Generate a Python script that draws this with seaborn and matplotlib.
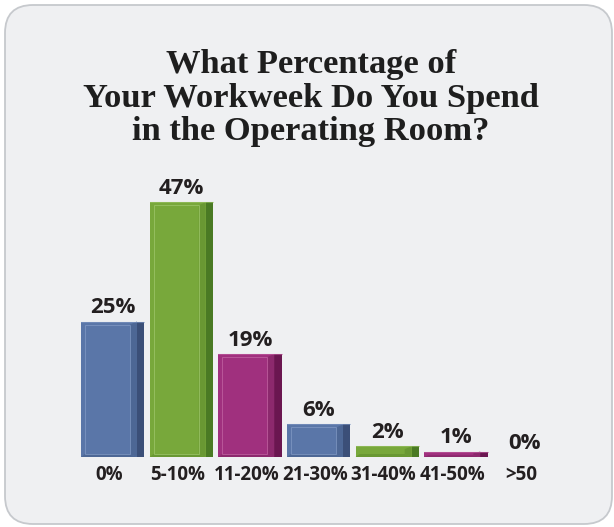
import matplotlib
matplotlib.use("Agg")
import matplotlib.pyplot as plt
from matplotlib.patches import FancyBboxPatch, Rectangle, Polygon
from matplotlib.transforms import IdentityTransform
import seaborn as sns
import pandas as pd

# Survey data
categories = ["0%", "5-10%", "11-20%", "21-30%", "31-40%", "41-50%", ">50"]
shares = [25, 47, 19, 6, 2, 1, 0]
title = "What Percentage of\nYour Workweek Do You Spend\nin the Operating Room?"

# face, shaded bevel, side, highlight
blue = ("#5a76a8", "#4d6795", "#3b4f78", "#7f97c2")
green = ("#78a83b", "#699833", "#4a7a24", "#9cc468")
purple = ("#a0307e", "#8c296d", "#6a1650", "#c060a0")
styles = [blue, green, purple, blue, green, purple, blue]

sns.set_theme(style="white")

W, H = 614, 527
fig = plt.figure(figsize=(W / 100, H / 100), dpi=100)
fig.patch.set_facecolor("white")

# rounded grey panel behind everything
panel = FancyBboxPatch((5, 3), 607, 519,
                       boxstyle="round,pad=0,rounding_size=28",
                       transform=IdentityTransform(),
                       facecolor="#eff0f2", edgecolor="#c6c9cd", linewidth=1.3,
                       zorder=-5)
fig.patches.append(panel)

fig.text(311 / W, 1 - 49 / H, title, ha="center", va="top",
         fontsize=24.8, fontweight="bold", family="Liberation Serif",
         color="#1e1e1e", linespacing=1.11, zorder=1)

ax = fig.add_axes([74.65 / W, 70 / H, 480.6 / W, 271 / H])
ax.set_zorder(2)
ax.patch.set_alpha(0)

df = pd.DataFrame({"category": categories, "share": shares})
front_w = 0.815
sns.barplot(data=df, x="category", y="share", hue="category",
            palette=[s[0] for s in styles], saturation=1, width=front_w,
            legend=False, ax=ax, linewidth=0, zorder=2)

ax.set_xlim(-0.5, len(categories) - 0.5)
ax.set_ylim(0, 50)

side_w = 0.108     # depth of the side face, in category units
bevel_x = 0.10     # shaded right strip on the front face
px_y = 50 / 271    # one pixel in y data units
px_x = 1 / 68.7    # one pixel in x data units

for patch, (face, shade, side, light), v in zip(ax.patches, styles, shares):
    x0 = patch.get_x()
    w = patch.get_width()
    h = patch.get_height()
    if h > 0:
        x1 = x0 + w
        # side face
        ax.add_patch(Rectangle((x1, 0), side_w, h, facecolor=side,
                               edgecolor="none", zorder=3))
        # bevel strips on the front face
        b = min(3 * px_y, h / 3)
        ax.add_patch(Polygon([(x1 - bevel_x, b), (x1, 0), (x1, h),
                              (x1 - bevel_x, h - b)],
                             closed=True, facecolor=shade, edgecolor="none",
                             zorder=3))
        ax.add_patch(Polygon([(x0, 0), (x1, 0), (x1 - bevel_x, b),
                              (x0 + 4 * px_x, b)],
                             closed=True, facecolor=shade, edgecolor="none",
                             zorder=3))
        # light inner outline
        if h > 4 * b:
            ax.add_patch(Rectangle((x0 + 4 * px_x, b), w - bevel_x - 4 * px_x,
                                   h - 2 * b, facecolor="none",
                                   edgecolor=light, linewidth=0.7, zorder=4,
                                   alpha=0.8))
        ax.plot([x0, x1 + side_w], [h, h], color=light, lw=0.8, zorder=4,
                alpha=0.6)
    # value label centered over the whole bar
    ax.annotate(f"{v}%", (x0 + (w + side_w) / 2, h), xytext=(0, 6),
                textcoords="offset points", ha="center", va="baseline",
                fontsize=16, fontweight="bold", family="Open Sans",
                color="#231f20")

ax.set_xticks(range(len(categories)))
ax.set_xticklabels(categories, fontsize=13.5, fontweight="bold",
                   family="Open Sans", color="#231f20")
ax.tick_params(axis="x", length=0, pad=5.5)
ax.set_yticks([])
ax.set_xlabel("")
ax.set_ylabel("")
for s in ax.spines.values():
    s.set_visible(False)

fig.savefig("out.png", dpi=100, facecolor="white")
